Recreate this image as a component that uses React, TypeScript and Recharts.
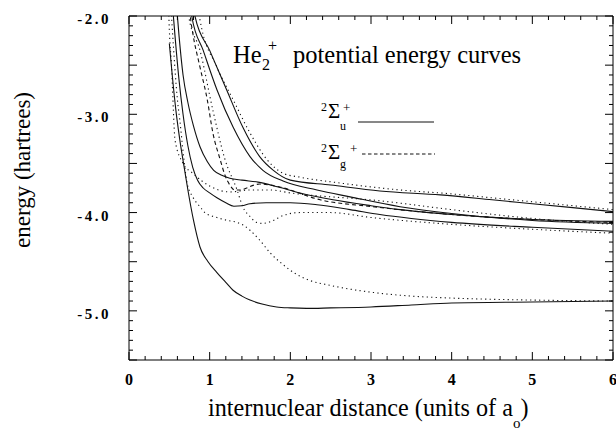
import React from 'react';
import { LineChart, Line, XAxis, YAxis, ReferenceLine } from 'recharts';

const FONT = '"Liberation Serif", "Times New Roman", Times, serif';

// ---- axis ticks ----
const xTicks = [0, 0.2, 0.4, 0.6, 0.8, 1, 1.2, 1.4, 1.6, 1.8, 2, 2.2, 2.4, 2.6, 2.8, 3, 3.2, 3.4, 3.6, 3.8, 4, 4.2, 4.4, 4.6, 4.8, 5, 5.2, 5.4, 5.6, 5.8, 6];
const yTicks = [-5.5, -5.4, -5.3, -5.2, -5.1, -5, -4.9, -4.8, -4.7, -4.6, -4.5, -4.4, -4.3, -4.2, -4.1, -4, -3.9, -3.8, -3.7, -3.6, -3.5, -3.4, -3.3, -3.2, -3.1, -3, -2.9, -2.8, -2.7, -2.6, -2.5, -2.4, -2.3, -2.2, -2.1, -2];

// ---- curves (R in a0, E in hartrees) ----
// solid: 2Σu+
const s1R = [0.5, 0.53, 0.58, 0.63, 0.68, 0.73, 0.8, 0.88, 0.98, 1.09, 1.2, 1.29, 1.4, 1.5, 1.65, 1.83, 2.0, 2.2, 2.5, 3.0, 3.5, 4.0, 5.0, 6.0];
const s1E = [-2.28, -2.55, -2.95, -3.26, -3.52, -3.77, -4.08, -4.35, -4.5, -4.61, -4.71, -4.79, -4.85, -4.89, -4.93, -4.96, -4.97, -4.975, -4.97, -4.96, -4.94, -4.92, -4.91, -4.9];

const s2R = [0.53, 0.57, 0.62, 0.67, 0.73, 0.79, 0.85, 0.92, 1.0, 1.09, 1.2, 1.3, 1.4, 1.5, 1.7, 2.0, 2.33, 2.74, 3.11, 3.5, 4.0, 5.0, 6.0];
const s2E = [-1.8, -2.2, -2.65, -3.0, -3.32, -3.54, -3.67, -3.75, -3.8, -3.85, -3.9, -3.935, -3.93, -3.91, -3.9, -3.9, -3.92, -3.97, -4.02, -4.06, -4.1, -4.15, -4.19];

const s3R = [0.58, 0.62, 0.67, 0.73, 0.8, 0.88, 0.97, 1.05, 1.15, 1.25, 1.4, 1.6, 1.85, 2.12, 2.53, 3.0, 3.36, 4.0, 5.0, 6.0];
const s3E = [-1.8, -2.2, -2.6, -2.88, -3.12, -3.33, -3.48, -3.57, -3.62, -3.65, -3.67, -3.69, -3.74, -3.8, -3.87, -3.93, -3.97, -4.02, -4.07, -4.09];

const s4R = [0.76, 0.78, 0.92, 1.09, 1.29, 1.5, 1.66, 1.91, 2.33, 2.74, 3.36, 4.0, 5.0, 6.0];
const s4E = [-1.8, -2.01, -2.35, -2.75, -3.13, -3.43, -3.57, -3.68, -3.77, -3.84, -3.94, -4.01, -4.08, -4.11];

const s5R = [0.8, 0.82, 1.0, 1.21, 1.41, 1.62, 1.79, 2.0, 2.5, 3.11, 3.86, 4.5, 5.0, 6.0];
const s5E = [-1.8, -2.01, -2.35, -2.75, -3.13, -3.43, -3.57, -3.67, -3.72, -3.78, -3.82, -3.87, -3.91, -3.99];

// dashed: 2Σg+
const d1R = [0.74, 0.76, 0.79, 0.88, 0.97, 1.04, 1.13, 1.19, 1.25, 1.31, 1.38, 1.46, 1.55, 1.62, 1.75, 1.87, 2.37, 3.02, 4.0, 5.0, 6.0];
const d1E = [-1.8, -2.0, -2.17, -2.52, -2.85, -3.19, -3.46, -3.62, -3.72, -3.77, -3.77, -3.75, -3.72, -3.71, -3.72, -3.74, -3.87, -3.94, -4.02, -4.07, -4.1];

// dotted: other states
const p1R = [0.85, 0.88, 1.09, 1.29, 1.5, 1.71, 1.91, 2.12, 2.53, 3.36, 4.0, 4.5, 5.0, 6.0];
const p1E = [-1.85, -2.04, -2.52, -2.85, -3.19, -3.46, -3.6, -3.64, -3.69, -3.77, -3.81, -3.85, -3.89, -3.97];

const p2R = [0.49, 0.5, 0.53, 0.55, 0.57, 0.67, 0.79, 1.0, 1.25, 1.5, 1.75, 2.0, 3.11, 4.0, 5.0, 6.0];
const p2E = [-1.9, -2.14, -2.55, -2.96, -3.26, -3.5, -3.6, -3.73, -3.79, -3.77, -3.77, -3.8, -3.88, -3.97, -4.06, -4.12];

const p3R = [0.72, 0.74, 0.88, 1.04, 1.19, 1.34, 1.41, 1.5, 1.58, 1.66, 1.79, 1.91, 2.12, 2.49, 3.0, 4.0, 5.0, 6.0];
const p3E = [-1.85, -2.0, -2.35, -2.96, -3.46, -3.77, -3.94, -4.04, -4.1, -4.11, -4.08, -4.03, -4.0, -4.0, -4.05, -4.12, -4.17, -4.21];

const p4R = [0.52, 0.55, 0.6, 0.63, 0.68, 0.72, 0.79, 0.88, 0.94, 1.09, 1.22, 1.34, 1.42, 1.5, 1.62, 1.75, 1.91, 2.08, 2.24, 2.49, 3.0, 3.5, 4.0, 5.0, 6.0];
const p4E = [-1.9, -2.3, -2.85, -3.06, -3.45, -3.7, -3.84, -3.94, -4.0, -4.05, -4.08, -4.1, -4.13, -4.18, -4.28, -4.41, -4.53, -4.63, -4.69, -4.74, -4.81, -4.85, -4.87, -4.89, -4.9];

const toData = (r: number[], e: number[]) => r.map((v, i) => ({ r: v, e: e[i] }));

const SOLID = undefined;
const DASHED = '4 3';
const DOTTED = '1.2 3.3';

const curves = [
  { id: 's1', data: toData(s1R, s1E), dash: SOLID },
  { id: 's2', data: toData(s2R, s2E), dash: SOLID },
  { id: 's3', data: toData(s3R, s3E), dash: SOLID },
  { id: 's4', data: toData(s4R, s4E), dash: SOLID },
  { id: 's5', data: toData(s5R, s5E), dash: SOLID },
  { id: 'd1', data: toData(d1R, d1E), dash: DASHED },
  { id: 'p1', data: toData(p1R, p1E), dash: DOTTED },
  { id: 'p2', data: toData(p2R, p2E), dash: DOTTED },
  { id: 'p3', data: toData(p3R, p3E), dash: DOTTED },
  { id: 'p4', data: toData(p4R, p4E), dash: DOTTED },
];

const XDOMAIN: [number, number] = [0, 6];
const YDOMAIN: [number, number] = [-5.5, -2];

// layout
const CHART_W = 616;
const CHART_H = 432;
const MARGIN = { top: 16, right: 3, bottom: 0, left: 0 };
const Y_AXIS_W = 129;
const X_AXIS_H = 72;
const PLOT_W = CHART_W - MARGIN.left - MARGIN.right - Y_AXIS_W;
const PLOT_H = CHART_H - MARGIN.top - MARGIN.bottom - X_AXIS_H;

const isMultiple = (v: number, step: number) => Math.abs(v / step - Math.round(v / step)) < 1e-6;

// bottom axis tick: label on integers, inward marks on bottom and top frame
const XTick = (props: any) => {
  const { x, y, payload } = props;
  const v = Number(payload.value);
  const major = isMultiple(v, 1);
  const len = major ? 8 : 4;
  return (
    <g>
      <line x1={x} x2={x} y1={y} y2={y - len} stroke="#000" strokeWidth={1} />
      <line x1={x} x2={x} y1={y - PLOT_H} y2={y - PLOT_H + len} stroke="#000" strokeWidth={1} />
      {major && (
        <text x={x} y={y} dy={25} textAnchor="middle" fontFamily={FONT} fontWeight={700} fontSize={16} fill="#000">
          {v}
        </text>
      )}
    </g>
  );
};

// left axis tick: label on integers, inward marks on left and right frame
const YTick = (props: any) => {
  const { x, y, payload } = props;
  const v = Number(payload.value);
  const labelled = isMultiple(v, 1);
  const major = isMultiple(v, 0.5);
  const len = major ? 8 : 4;
  return (
    <g>
      <line x1={x} x2={x + len} y1={y} y2={y} stroke="#000" strokeWidth={1} />
      <line x1={x + PLOT_W} x2={x + PLOT_W - len} y1={y} y2={y} stroke="#000" strokeWidth={1} />
      {labelled && (
        <text x={x - 18} y={y} dy={8} textAnchor="end" fontFamily={FONT} fontWeight={700} fontSize={15} letterSpacing={2.5} fill="#000">
          {v.toFixed(1)}
        </text>
      )}
    </g>
  );
};

const axisStroke = { stroke: '#000', strokeWidth: 1 };

export default function App() {
  return (
    <div style={{ position: 'absolute', left: 0, top: 0, width: CHART_W, height: CHART_H, background: '#fff' }}>
      <LineChart width={CHART_W} height={CHART_H} margin={MARGIN}>
        <XAxis xAxisId="x" dataKey="r" type="number" domain={XDOMAIN} allowDataOverflow ticks={xTicks}
          interval={0} height={X_AXIS_H} tickLine={false} tickSize={0} tickMargin={0} axisLine={axisStroke} tick={<XTick />} />
        <YAxis yAxisId="y" type="number" domain={YDOMAIN} allowDataOverflow ticks={yTicks}
          interval={0} width={Y_AXIS_W} tickLine={false} tickSize={0} tickMargin={0} axisLine={axisStroke} tick={<YTick />} />

        {/* frame: top and right edges of the plot */}
        <ReferenceLine xAxisId="x" yAxisId="y" y={YDOMAIN[1]} stroke="#000" strokeWidth={1} />
        <ReferenceLine xAxisId="x" yAxisId="y" x={XDOMAIN[1]} stroke="#000" strokeWidth={1} />

        {curves.map((c) => (
          <Line key={c.id} xAxisId="x" yAxisId="y" data={c.data} dataKey="e" type="monotone"
            stroke="#111" strokeWidth={1.1} strokeDasharray={c.dash} dot={false} activeDot={false}
            isAnimationActive={false} />
        ))}
      </LineChart>

      <svg width={CHART_W} height={CHART_H} style={{ position: 'absolute', left: 0, top: 0, pointerEvents: 'none' }}>
        {/* title */}
        <text x={233} y={63} fontFamily={FONT} fontSize={24.5} fill="#000">
          He
          <tspan x={262} dy={7} fontSize={16}>2</tspan>
          <tspan x={268} dy={-19} fontSize={16}>+</tspan>
          <tspan x={293} dy={12} fontSize={24.5}>potential energy curves</tspan>
        </text>

        {/* legend */}
        <text fontFamily={FONT} fill="#000">
          <tspan x={321} y={111} fontSize={12}>2</tspan>
          <tspan x={328} y={118} fontSize={21}>Σ</tspan>
          <tspan x={340} y={130} fontSize={12}>u</tspan>
          <tspan x={343} y={112} fontSize={13}>+</tspan>
        </text>
        <line x1={358} x2={434} y1={122} y2={122} stroke="#111" strokeWidth={1} />
        <text fontFamily={FONT} fill="#000">
          <tspan x={321} y={152} fontSize={12}>2</tspan>
          <tspan x={328} y={159} fontSize={21}>Σ</tspan>
          <tspan x={340} y={168} fontSize={12}>g</tspan>
          <tspan x={350} y={153} fontSize={13}>+</tspan>
        </text>
        <line x1={362} x2={435} y1={154} y2={154} stroke="#111" strokeWidth={1} strokeDasharray="3.5 2.5" />

        {/* axis titles */}
        <text x={208} y={416} fontFamily={FONT} fontSize={24.2} fill="#000">
          internuclear distance (units of a
          <tspan dy={12} fontSize={15}>o</tspan>
          <tspan dy={-12} fontSize={24.2}>)</tspan>
        </text>
        <text x={0} y={0} transform="translate(30,170) rotate(-90)" textAnchor="middle" fontFamily={FONT} fontSize={23} fill="#000">
          energy (hartrees)
        </text>
      </svg>
    </div>
  );
}
